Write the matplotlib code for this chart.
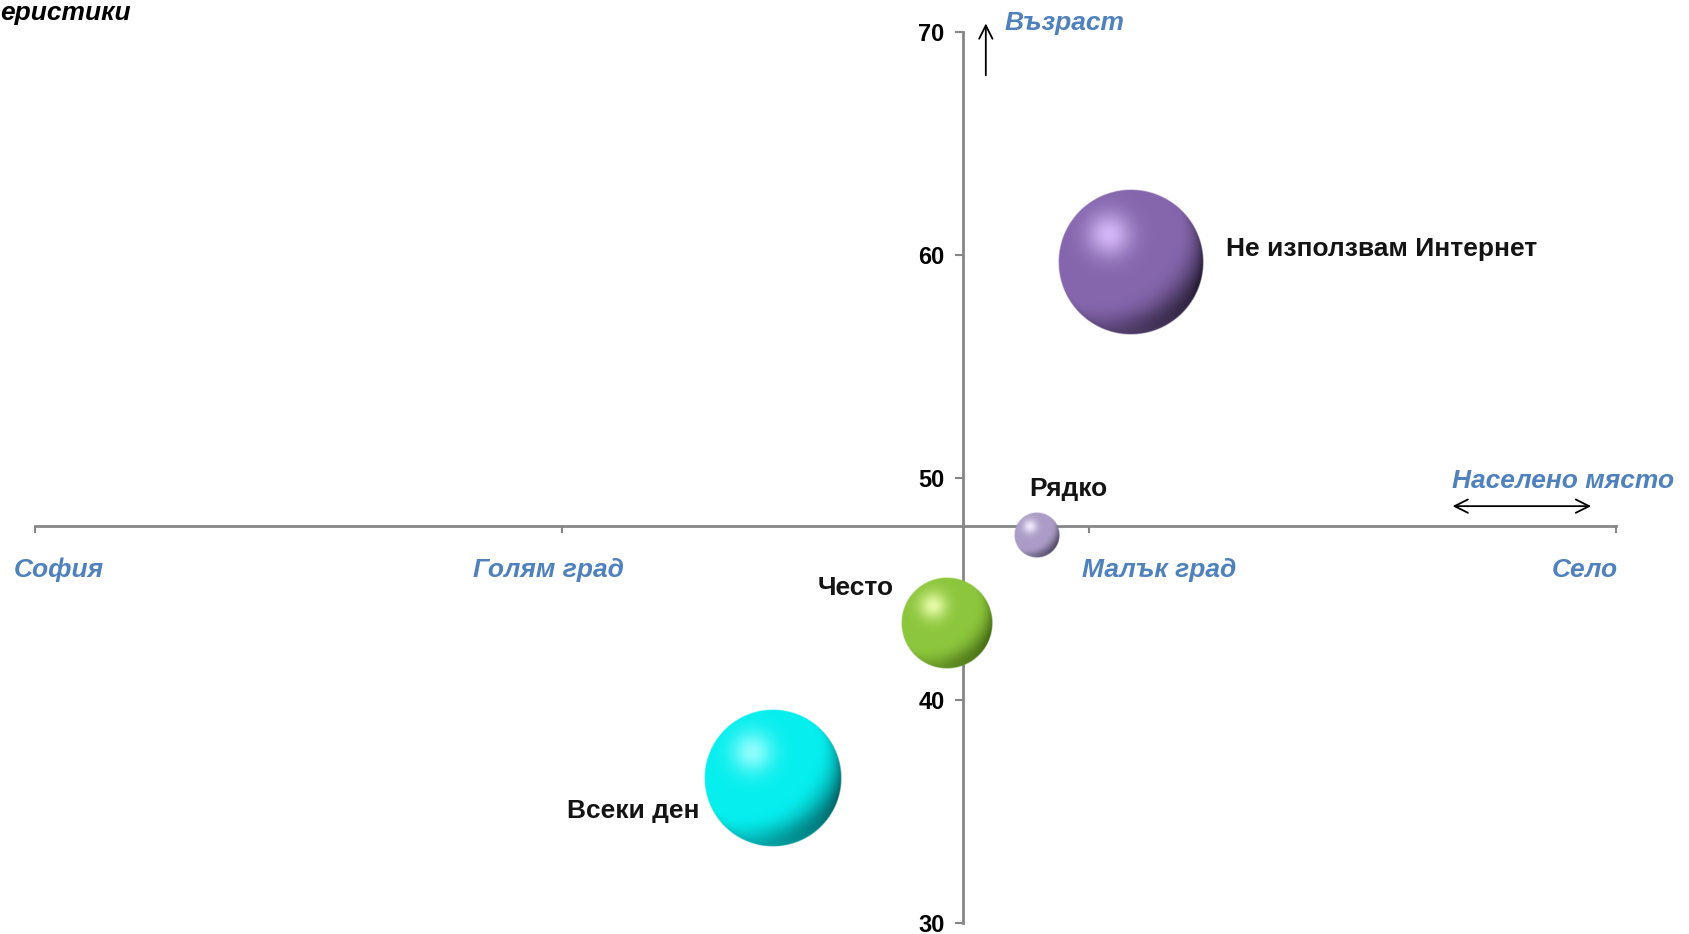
import numpy as np
import matplotlib
matplotlib.use("Agg")
import matplotlib.pyplot as plt
from matplotlib.colors import to_rgb

plt.rcParams["font.family"] = ["Liberation Sans", "DejaVu Sans"]

# bubble data
names = ["Не използвам Интернет", "Рядко", "Често", "Всеки ден"]
place = [3.08, 2.90, 2.73, 2.40]       # населено място (1 = София ... 4 = Село)
age = [59.7, 47.4, 43.45, 36.5]        # възраст
share = [36, 3.5, 14, 32]              # bubble size

categories = ["София", "Голям град", "Малък град", "Село"]
cat_ticks = [1, 2, 3, 4]
y_ticks = [30, 40, 50, 60, 70]

# sphere colours: dark side, base, highlight
palette = [
    ("#231a30", "#8566ad", "#dcbfff"),
    ("#423a55", "#aa9cc6", "#f6f0ff"),
    ("#3f6410", "#8cc63c", "#eeffb0"),
    ("#005f62", "#06eeee", "#9dffff"),
]
# label anchors (x, y, ha)
label_pos = [(3.26, 60.28, "left"), (2.96, 49.5, "center"),
             (2.63, 45.04, "right"), (2.26, 35.03, "right")]
cat_pos = [1.045, 1.973, 3.133, 3.941]

BLUE = "#4f81bd"
GRAY = "#868686"

fig = plt.figure(figsize=(16.89, 9.34), dpi=100)
ax = fig.add_axes([0.021, 0.0118, 0.9357, 0.9536])
ax.set_xlim(1, 4)
ax.set_ylim(30, 70)

for sp in ("top", "right"):
    ax.spines[sp].set_visible(False)
ax.spines["left"].set_position(("data", 2.76))
ax.spines["bottom"].set_position(("data", 47.85))
for sp in ("left", "bottom"):
    ax.spines[sp].set_color(GRAY)
    ax.spines[sp].set_linewidth(2)

ax.set_yticks(y_ticks)
ax.set_yticklabels([str(v) for v in y_ticks], fontsize=17, fontweight="bold")
ax.set_xticks(cat_ticks)
ax.set_xticklabels([])
ax.tick_params(axis="y", direction="out", length=6, width=1.5, color=GRAY, pad=7)
ax.tick_params(axis="x", direction="out", length=5, width=1.5, color=GRAY)


def sphere_rgba(dark, base, hi, r_px, n=300):
    g = np.linspace(-1, 1, n)
    u, v = np.meshgrid(g, g)
    rho = np.sqrt(u ** 2 + v ** 2)
    z = np.sqrt(np.clip(1 - rho ** 2, 0, 1))
    L = np.array([-0.45, 0.55, 0.7])
    L = L / np.linalg.norm(L)
    t = u * L[0] + v * L[1] + z * L[2]
    w = np.clip((t + 0.55) / 0.95, 0, 1)
    w = w * w * (3 - 2 * w)
    d, b, h = (np.array(to_rgb(c)) for c in (dark, base, hi))
    rgb = d + (b - d) * w[..., None]
    spec = np.exp(-((u + 0.3) ** 2 + (v - 0.38) ** 2) / 0.09)
    rgb = rgb + (h - rgb) * (0.9 * spec)[..., None]
    # soft reflected light along the lower edge
    refl = np.clip(-v - 0.3, 0, 1) * np.clip(rho - 0.75, 0, 1) * 2.2
    rgb = rgb + (b * 1.1 - rgb) * np.clip(refl, 0, 0.6)[..., None]
    alpha = np.clip((1 - rho) * r_px, 0, 1)
    return np.dstack([np.clip(rgb, 0, 1), alpha])


# pixels per data unit (axes position is fixed)
p0 = ax.transData.transform((0, 0))
p1 = ax.transData.transform((1, 1))
px_x, px_y = p1 - p0

for x, y, v, (dark, base, hi) in zip(place, age, share, palette):
    r_px = np.sqrt(148 * v)
    rx, ry = r_px / px_x, r_px / px_y
    ax.imshow(sphere_rgba(dark, base, hi, r_px), origin="lower",
              extent=(x - rx, x + rx, y - ry, y + ry), aspect="auto",
              interpolation="antialiased", zorder=3)
ax.set_xlim(1, 4)
ax.set_ylim(30, 70)

for name, (lx, ly, ha) in zip(names, label_pos):
    ax.text(lx, ly, name, ha=ha, va="center", fontsize=19, fontweight="bold",
            color="#141414", zorder=5)

for cat, cx in zip(categories, cat_pos):
    ax.text(cx, 45.85, cat, ha="center", va="center", fontsize=19,
            fontweight="bold", fontstyle="italic", color=BLUE, clip_on=False)

# axis captions and arrows
ax.text(2.84, 70.42, "Възраст", ha="left", va="center", fontsize=19,
        fontweight="bold", fontstyle="italic", color=BLUE, clip_on=False)
ax.annotate("", xy=(2.804, 70.4), xytext=(2.804, 68.07),
            arrowprops=dict(arrowstyle="->", color="black", lw=1.3,
                            mutation_scale=24, shrinkA=0, shrinkB=0),
            annotation_clip=False)
ax.text(3.90, 49.85, "Населено място", ha="center", va="center", fontsize=19,
        fontweight="bold", fontstyle="italic", color=BLUE, clip_on=False)
ax.annotate("", xy=(3.953, 48.72), xytext=(3.69, 48.72),
            arrowprops=dict(arrowstyle="<->", color="black", lw=1.3,
                            mutation_scale=24, shrinkA=0, shrinkB=0),
            annotation_clip=False)

fig.text(0.0, 0.999, "еристики", ha="left", va="top", fontsize=19,
         fontweight="bold", fontstyle="italic", color="black")

fig.savefig("out.png", dpi=100)
